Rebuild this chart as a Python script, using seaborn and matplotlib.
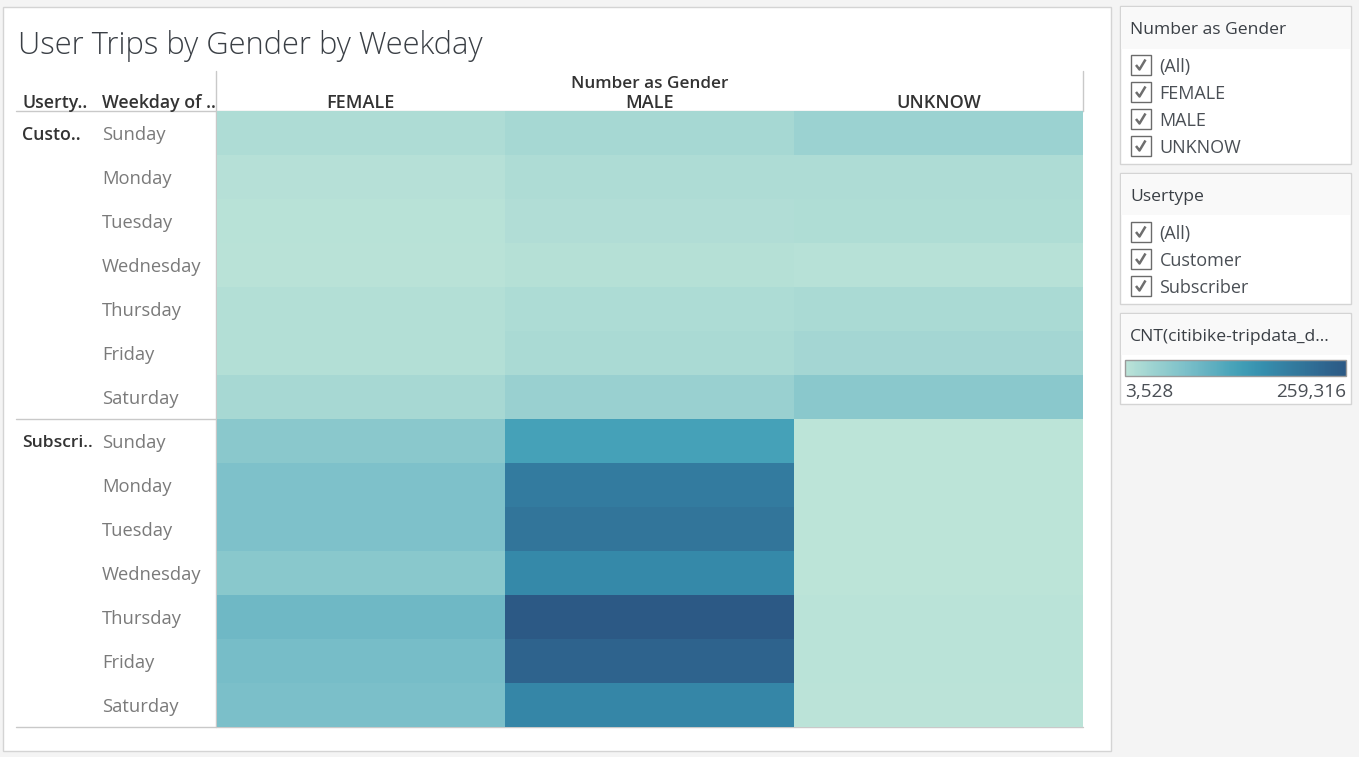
import numpy as np
import pandas as pd
import matplotlib
matplotlib.use("Agg")
import matplotlib.pyplot as plt
from matplotlib.colors import LinearSegmentedColormap
from matplotlib.patches import Rectangle
from matplotlib.transforms import ScaledTranslation
import seaborn as sns

W, H = 1359, 757

weekdays = ["Sunday", "Monday", "Tuesday", "Wednesday", "Thursday", "Friday", "Saturday"]
usertypes = ["Customer", "Subscriber"]
genders = ["FEMALE", "MALE", "UNKNOW"]

customer_female = [17000, 10000, 8000, 7500, 13000, 13500, 25000]
customer_male = [26000, 17000, 15000, 11000, 18000, 22000, 40000]
customer_unknow = [37000, 17000, 16000, 9500, 22000, 28000, 57000]
subscriber_female = [57000, 71000, 71000, 58000, 88000, 79000, 74000]
subscriber_male = [133000, 197000, 209000, 173000, 259316, 239000, 178000]
subscriber_unknow = [3528, 3700, 3700, 3900, 6000, 6000, 5000]

value_min = 3528
value_max = 259316

gender_filter = ["(All)", "FEMALE", "MALE", "UNKNOW"]
usertype_filter = ["(All)", "Customer", "Subscriber"]

# Tableau Blue-Teal
blue_teal = ["#bce4d8", "#aedcd5", "#a1d5d2", "#95cecf", "#89c8cc", "#7ec1ca", "#72bac6",
             "#66b2c2", "#59acbe", "#4ba5ba", "#419eb6", "#3b96b2", "#358ead", "#3586a7",
             "#347ea1", "#32779b", "#316f96", "#2f6790", "#2d608a", "#2c5985"]
cmap = LinearSegmentedColormap.from_list("blue_teal", blue_teal)

df = pd.DataFrame(
    {
        "FEMALE": customer_female + subscriber_female,
        "MALE": customer_male + subscriber_male,
        "UNKNOW": customer_unknow + subscriber_unknow,
    },
    index=weekdays + weekdays,
)

sns.set_theme(style="white")
plt.rcParams["font.family"] = ["Open Sans", "DejaVu Sans"]

DARK = "#333333"
GREY = "#7a7a7a"
LINE = "#c9c9c9"
BORDER = "#d4d4d4"

fig = plt.figure(figsize=(W / 100, H / 100), dpi=100, facecolor="#f4f4f4")

# pixel canvas for the dashboard furniture
bg = fig.add_axes([0, 0, 1, 1], zorder=0)
bg.set_xlim(0, W)
bg.set_ylim(H, 0)
bg.axis("off")


def panel(x0, y0, x1, y1, header_bottom=None):
    bg.add_patch(Rectangle((x0, y0), x1 - x0, y1 - y0, fc="white", ec=BORDER, lw=1))
    if header_bottom:
        bg.add_patch(Rectangle((x0 + 1, y0 + 1), x1 - x0 - 2, header_bottom - y0 - 1, fc="#f9f9f9", ec="none"))


def checkbox(y, label):
    bg.add_patch(Rectangle((1130.5, y - 10.5), 20, 20, fc="white", ec="#6b6b6b", lw=1))
    bg.plot([1136, 1139.5, 1145.5], [y - 0.5, y + 4, y - 6], color="#6e6e6e", lw=1.8, solid_capstyle="butt")
    bg.text(1159.5, y + 1.5, label, fontsize=13, color="#4a4f55", va="center", ha="left")


panel(3, 7, 1111, 751)
panel(1120, 6, 1351, 164, 49)
panel(1120, 173, 1351, 304, 215)
panel(1120, 313, 1351, 404, 355)

bg.text(18, 45.5, "User Trips by Gender by Weekday", fontsize=22.25, fontweight="light", color="#3a3f45", va="center")

bg.text(1130, 30, "Number as Gender", fontsize=12.6, color="#3a3f45", va="center")
for i, g in enumerate(gender_filter):
    checkbox(65.5 + i * 27, g)

bg.text(1130, 197, "Usertype", fontsize=12.6, color="#3a3f45", va="center")
for i, u in enumerate(usertype_filter):
    checkbox(232.5 + i * 27, u)

bg.text(1130, 337, "CNT(citibike-tripdata_d...", fontsize=12.6, color="#3a3f45", va="center")
bg.text(1125, 392, f"{value_min:,}", fontsize=13.7, color="#4a4f55", va="center", ha="left")
bg.text(1346, 392, f"{value_max:,}", fontsize=13.7, color="#4a4f55", va="center", ha="right")

# table headers
bg.text(650, 83.5, "Number as Gender", fontsize=12.3, fontweight="semibold", color=DARK, ha="center", va="center")
bg.text(22, 102.5, "Userty..", fontsize=12.8, fontweight="semibold", color=DARK, va="center")
bg.text(102, 102.5, "Weekday of ..", fontsize=12.8, fontweight="semibold", color=DARK, va="center")
bg.text(22, 135, "Custo..", fontsize=12.8, fontweight="semibold", color=DARK, va="center")
bg.text(22, 443, "Subscri..", fontsize=12.6, fontweight="semibold", color=DARK, va="center")

# heatmap + legend ramp
ax = fig.add_axes([216.5 / W, 1 - 727 / H, (1083 - 216.5) / W, (727 - 111) / H], zorder=1)
cax = fig.add_axes([1125 / W, 1 - 375.5 / H, 221 / W, 16 / H], zorder=1)
sns.heatmap(df, ax=ax, cmap=cmap, vmin=value_min, vmax=value_max, cbar_ax=cax,
            cbar_kws={"orientation": "horizontal"}, linewidths=0)

cbar = ax.collections[0].colorbar
cbar.set_ticks([])
cbar.outline.set_visible(True)
cbar.outline.set_edgecolor("#9a9a9a")
cbar.outline.set_linewidth(1)

ax.xaxis.tick_top()
ax.set_xticklabels(genders, fontsize=13, fontweight="semibold", color=DARK, rotation=0)
ax.tick_params(axis="x", length=0, pad=-0.5)
ax.set_yticks(np.arange(len(df)) + 0.5)
ax.set_yticklabels(df.index, fontsize=13.2, color=GREY, rotation=0, ha="left", va="center")
ax.tick_params(axis="y", length=0, pad=114.5 * 0.72)
ax.set_xlabel("")
ax.set_ylabel("")

# weekday labels sit 2px lower than the cell centre
shift = ScaledTranslation(0, -2 / 100, fig.dpi_scale_trans)
for lab in ax.get_yticklabels():
    lab.set_transform(lab.get_transform() + shift)

# separators
bg.plot([216, 216], [71, 727], color=LINE, lw=1)
bg.plot([1083, 1083], [71, 111], color=LINE, lw=1)
bg.plot([16, 1083], [110.5, 110.5], color=LINE, lw=1)
bg.plot([16, 216], [419, 419], color=LINE, lw=1)
bg.plot([16, 1083], [727, 727], color=LINE, lw=1)

fig.savefig("out.png", dpi=100, facecolor=fig.get_facecolor())
